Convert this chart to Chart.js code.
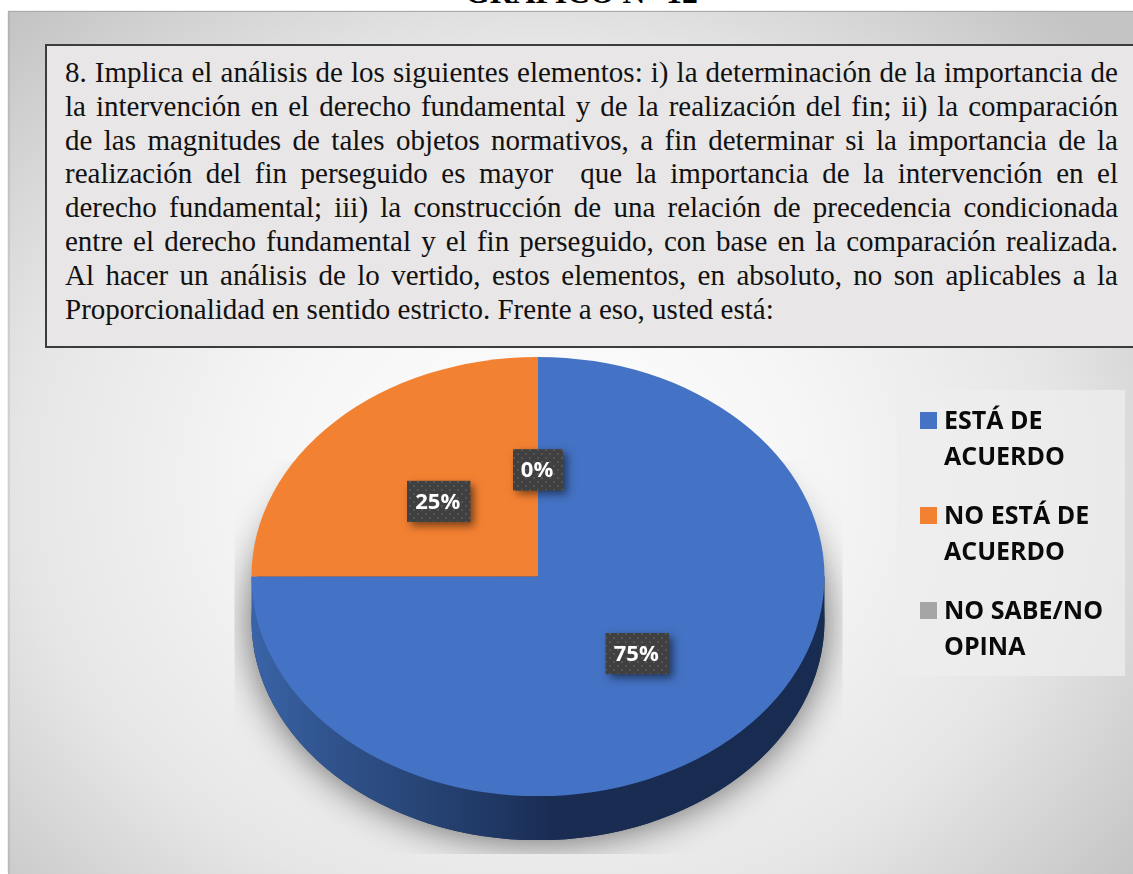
<!DOCTYPE html>
<html lang="es">
<head>
<meta charset="utf-8">
<title>Gráfico N° 12</title>
<script src="https://cdn.jsdelivr.net/npm/chart.js@4"></script>
<style>
    html, body { margin: 0; padding: 0; width: 1133px; height: 874px; overflow: hidden; background: #fff; }
    #title {
        position: absolute; left: 465px; top: -23px; white-space: nowrap;
        font: bold 31.7px "Liberation Serif", serif; color: #000; line-height: 32px;
    }
    #panel {
        position: absolute; left: 8px; top: 12px; width: 1125px; height: 862px;
        background: radial-gradient(ellipse 760px 640px at 532px 470px, #ffffff 0%, #f6f6f6 35%, #e6e6e6 68%, #c4c4c4 100%);
        box-shadow: 0 -1px 1px #aaa, inset 2px 0 0 rgba(0, 0, 0, 0.08);
    }
    #question {
        position: absolute; left: 45px; top: 44px; width: 1090px; height: 304px;
        box-sizing: border-box; border: 2px solid #3c3c3c; background: #e8e6e6;
        padding: 10px 15px 0 18px;
        font: 29px/33.8px "Liberation Serif", serif; color: #111;
    }
    #question div { text-align: justify; text-align-last: justify; white-space: normal; }
    #question div:last-child { text-align-last: left; }
    #c { position: absolute; left: 0; top: 0; }
    #legend {
        position: absolute; left: 897px; top: 390px; width: 228px; height: 286px;
        background: rgba(238, 238, 238, 0.75); box-sizing: border-box; padding: 11px 0 0 23px;
        font: bold 25px/36px "Open Sans", sans-serif; color: #0a0a0a;
    }
    .item { position: relative; padding-left: 24px; width: 175px; margin-bottom: 23px; }
    .item i { position: absolute; left: 0; top: 11px; width: 17px; height: 17px; }
</style>
</head>
<body>
<div id="title">GRÁFICO N° 12</div>
<div id="panel"></div>
<div id="question"></div>
<canvas id="c" width="1133" height="874"></canvas>
<div id="legend"></div>
<script>
const questionLines = [
    '8. Implica el análisis de los siguientes elementos: i) la determinación de la importancia de',
    'la intervención en el derecho fundamental y de la realización del fin; ii) la comparación',
    'de las magnitudes de tales objetos normativos, a fin determinar si la importancia de la',
    'realización del fin perseguido es mayor \u00a0que la importancia de la intervención en el',
    'derecho fundamental; iii) la construcción de una relación de precedencia condicionada',
    'entre el derecho fundamental y el fin perseguido, con base en la comparación realizada.',
    'Al hacer un análisis de lo vertido, estos elementos, en absoluto, no son aplicables a la',
    'Proporcionalidad en sentido estricto. Frente a eso, usted está:'
];
const categories = ['ESTÁ DE ACUERDO', 'NO ESTÁ DE ACUERDO', 'NO SABE/NO OPINA'];
const values = [75, 25, 0];
const colors = ['#4472c4', '#f38132', '#a5a5a5'];

// squash factor and wall height of the fake 3D pie
const squash = 0.7665;
const depth = 44;

document.getElementById('question').innerHTML = questionLines.map(l => `<div>${l}</div>`).join('');
document.getElementById('legend').innerHTML = categories.map((name, i) =>
    `<div class="item"><i style="background:${colors[i]}"></i>${name}</div>`).join('');

function dotPattern(ctx) {
    const p = document.createElement('canvas');
    p.width = 8;
    p.height = 8;
    const g = p.getContext('2d');
    g.fillStyle = '#404040';
    g.fillRect(0, 0, 8, 8);
    g.fillStyle = '#555555';
    g.fillRect(1, 1, 2, 2);
    g.fillRect(5, 5, 2, 2);
    return ctx.createPattern(p, 'repeat');
}

const pie3d = {
    id: 'pie3d',
    beforeDatasetsDraw(chart) {
        const ctx = chart.ctx;
        const arc = chart.getDatasetMeta(0).data[0];
        const cx = arc.x, cy = arc.y, rx = arc.outerRadius, ry = rx * squash;

        // soft shadow, cut off by a rectangle like in the original picture
        ctx.save();
        ctx.beginPath();
        ctx.rect(cx - rx - 17, cy - 116, 2 * rx + 35, ry + depth + 130);
        ctx.clip();
        ctx.shadowColor = 'rgba(0,0,0,0.6)';
        ctx.shadowBlur = 38;
        ctx.fillStyle = '#1a2c52';
        ctx.beginPath();
        ctx.ellipse(cx, cy + depth, rx, ry, 0, 0, Math.PI * 2);
        ctx.fill();
        ctx.restore();

        // side wall
        const wall = ctx.createLinearGradient(cx - rx, 0, cx + rx, 0);
        wall.addColorStop(0, '#3a64a8');
        wall.addColorStop(0.12, '#31558f');
        wall.addColorStop(0.3, '#274475');
        wall.addColorStop(0.45, '#1e3560');
        wall.addColorStop(0.52, '#1a2c52');
        wall.addColorStop(1, '#182b50');
        ctx.save();
        ctx.fillStyle = wall;
        ctx.beginPath();
        ctx.moveTo(cx - rx, cy);
        ctx.lineTo(cx - rx, cy + depth);
        ctx.ellipse(cx, cy + depth, rx, ry, 0, Math.PI, 0, true);
        ctx.lineTo(cx + rx, cy);
        ctx.closePath();
        ctx.fill();
        ctx.restore();

        // squash the slices into an ellipse
        ctx.save();
        ctx.translate(cx, cy);
        ctx.scale(1, squash);
        ctx.translate(-cx, -cy);
    },
    afterDatasetsDraw(chart) {
        const ctx = chart.ctx;
        ctx.restore();

        // percentage labels
        const fill = dotPattern(ctx);
        ctx.font = 'bold 22px "Open Sans", sans-serif';
        ctx.textAlign = 'center';
        ctx.textBaseline = 'middle';
        chart.getDatasetMeta(0).data.forEach((arc, i) => {
            const mid = (arc.startAngle + arc.endAngle) / 2;
            const r = arc.outerRadius * 0.49;
            const x = arc.x + Math.cos(mid) * r;
            const y = arc.y + 1 + Math.sin(mid) * r * squash;
            const text = values[i] + '%';
            const w = Math.round(ctx.measureText(text).width) + 18;
            const h = 41;
            ctx.save();
            ctx.shadowColor = 'rgba(0,0,0,0.5)';
            ctx.shadowBlur = 8;
            ctx.shadowOffsetX = 4;
            ctx.shadowOffsetY = 4;
            ctx.fillStyle = '#404040';
            ctx.fillRect(x - w / 2, y - h / 2, w, h);
            ctx.restore();
            ctx.fillStyle = fill;
            ctx.fillRect(x - w / 2, y - h / 2, w, h);
            ctx.fillStyle = '#fff';
            ctx.fillText(text, x - 1, y + 1);
        });
    }
};

new Chart(document.getElementById('c'), {
    type: 'pie',
    data: {
        labels: categories,
        datasets: [{
            data: values,
            backgroundColor: colors,
            borderWidth: 0
        }]
    },
    options: {
        responsive: false,
        animation: false,
        layout: { padding: { left: 251.5, right: 308.5, top: 290, bottom: 11 } },
        plugins: {
            legend: { display: false },
            tooltip: { enabled: false }
        }
    },
    plugins: [pie3d]
});
</script>
</body>
</html>
